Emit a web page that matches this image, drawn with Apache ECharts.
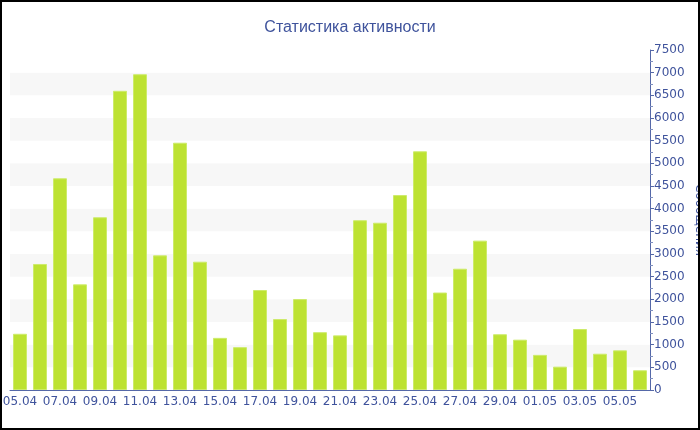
<!DOCTYPE html>
<html><head><meta charset="utf-8">
<script src="https://cdn.jsdelivr.net/npm/echarts@6/dist/echarts.min.js"></script>
<style>html,body{margin:0;padding:0;background:#fff}#c{width:696px;height:426px;border:2px solid #000}</style>
</head><body><div id="c"></div>
<script>
const categories = ['05.04','06.04','07.04','08.04','09.04','10.04','11.04','12.04','13.04','14.04','15.04','16.04','17.04','18.04','19.04','20.04','21.04','22.04','23.04','24.04','25.04','26.04','27.04','28.04','29.04','30.04','01.05','02.05','03.05','04.05','05.05','06.05'];
const messages = [1240,2780,4670,2330,3810,6600,6965,2970,5455,2830,1150,945,2205,1565,2005,1275,1205,3745,3690,4300,5265,2150,2675,3295,1230,1110,775,515,1345,800,875,435];
const yTicks = {min:0, max:7500, interval:500};
const textColor = '#3f539c';
const axisColor = '#5568a8';
const chart = echarts.init(document.getElementById('c'));
chart.setOption({
  animation:false,
  title:{text:'Статистика активности', left:'center', top:13,
    textStyle:{color:textColor, fontFamily:'Liberation Sans', fontSize:16, fontWeight:'normal'}},
  grid:{left:8, right:48, top:48, bottom:38, containLabel:false, outerBoundsMode:'none'},
  xAxis:{type:'category', data:categories, boundaryGap:true,
    axisLine:{lineStyle:{color:axisColor}},
    axisTick:{alignWithLabel:true, interval:1, lineStyle:{color:axisColor}},
    axisLabel:{interval:1, color:textColor, fontFamily:'DejaVu Sans', fontSize:12, margin:6},
    splitLine:{show:false}},
  yAxis:{type:'value', position:'right', min:yTicks.min, max:yTicks.max, interval:yTicks.interval,
    name:'Сообщения', nameLocation:'middle', nameGap:43, nameRotate:-90, nameMoveOverlap:false,
    nameTextStyle:{color:textColor, fontFamily:'DejaVu Sans', fontSize:12},
    axisLine:{show:true, lineStyle:{color:axisColor}},
    axisTick:{show:true, length:4, lineStyle:{color:axisColor}},
    minorTick:{show:true, splitNumber:2, length:3, lineStyle:{color:'#8090c0'}},
    axisLabel:{color:textColor, fontFamily:'DejaVu Sans', fontSize:12, margin:4, formatter:v=>String(v)},
    splitLine:{show:false},
    splitArea:{show:true, areaStyle:{color:['#ffffff','#f7f7f7']}}},
  series:[{type:'bar', data:messages, barWidth:14,
    itemStyle:{color:'#bde232', borderColor:'#cdeb6a', borderWidth:1}}]
});
</script></body></html>
